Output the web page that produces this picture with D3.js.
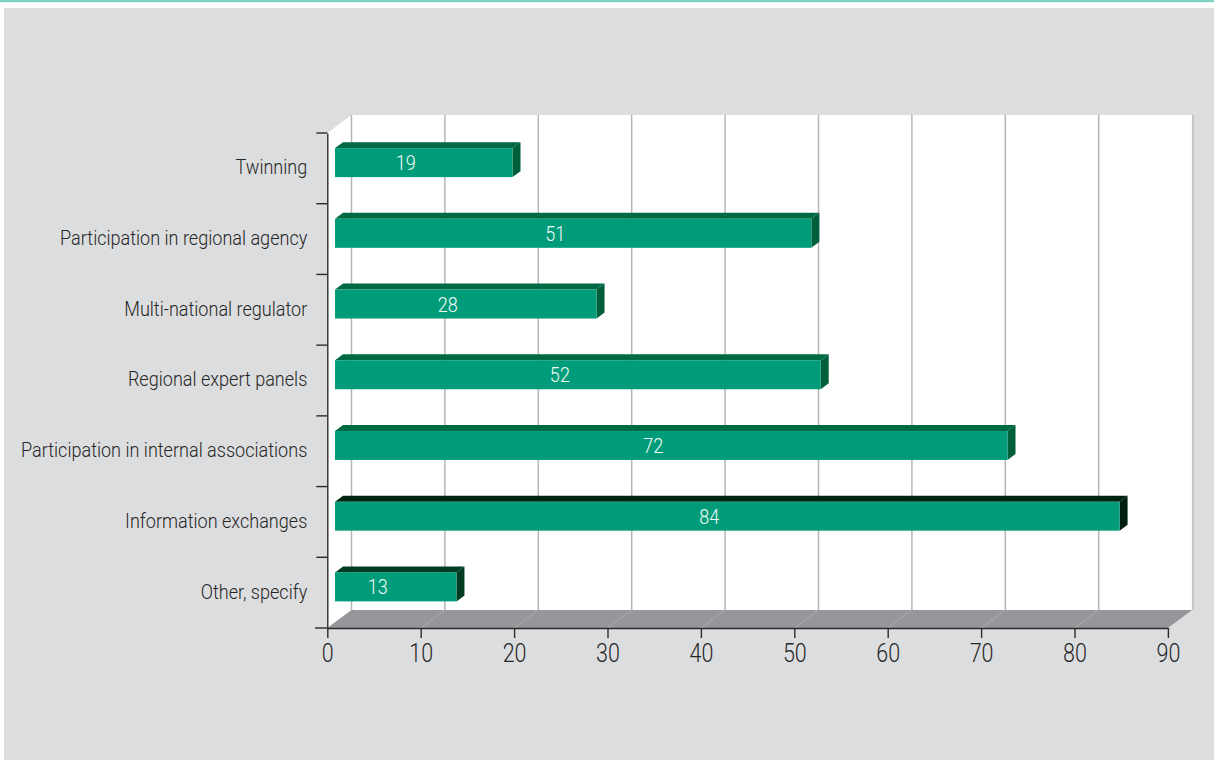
<!DOCTYPE html>
<html>
<head>
<meta charset="utf-8">
<script src="https://cdn.jsdelivr.net/npm/d3@7"></script>
<style>
  html, body { margin: 0; padding: 0; background: #ffffff; }
  svg { display: block; }
  text { font-family: Roboto, "Liberation Sans", Arial, sans-serif; font-weight: 300; }
</style>
</head>
<body>
<svg id="chart" width="1214" height="760"></svg>
<script>
// Survey responses: forms of regional / international cooperation
const categories = [
  "Twinning",
  "Participation in regional agency",
  "Multi-national regulator",
  "Regional expert panels",
  "Participation in internal associations",
  "Information exchanges",
  "Other, specify"
];
const counts = [19, 51, 28, 52, 72, 84, 13];
const xTicks = [0, 10, 20, 30, 40, 50, 60, 70, 80, 90];

// Shading for the top / side faces of each bar
const topShades  = ["#006a43", "#006a43", "#006a43", "#006a43", "#006a43", "#00230f", "#003c21"];
const sideShades = ["#005f3b", "#005f3b", "#005f3b", "#005f3b", "#005f3b", "#001f0e", "#003a1f"];

// condensed look for all labels
const SQ = 0.86;

const svg = d3.select("#chart");
const W = 1214, H = 760;

// page frame
svg.append("rect").attr("x", 0).attr("y", 0).attr("width", W).attr("height", H).attr("fill", "#ffffff");
svg.append("rect").attr("x", 4).attr("y", 8).attr("width", W - 4).attr("height", H - 8).attr("fill", "#dcdddf");
svg.append("rect").attr("x", 0).attr("y", 0).attr("width", W).attr("height", 2.2).attr("fill", "#7fd0bf");

// scales (front plane) and depth offset of the 3-D box
const x = d3.scaleLinear().domain([0, 90]).range([327.3, 1167.9]);
const y = d3.scaleBand().domain(categories).range([133, 628]).padding(0);
const DX = 24.2, DY = 18;
const P = (v, py, z) => [x(v) + z * DX, py - z * DY];
const poly = pts => pts.map(p => p.join(",")).join(" ");

const yTop = 133, yBot = 628;

// left wall
svg.append("polygon")
  .attr("points", poly([P(0, yBot, 0), P(0, yTop, 0), P(0, yTop, 1), P(0, yBot, 1)]))
  .attr("fill", "#ffffff");
// back wall
const bw0 = P(0, yTop, 1), bw1 = P(90, yBot, 1);
svg.append("rect")
  .attr("x", bw0[0]).attr("y", bw0[1])
  .attr("width", bw1[0] - bw0[0]).attr("height", bw1[1] - bw0[1])
  .attr("fill", "#ffffff");
// right edge shading of the back wall
svg.append("line")
  .attr("x1", bw1[0] + 0.8).attr("x2", bw1[0] + 0.8)
  .attr("y1", bw0[1]).attr("y2", bw1[1])
  .attr("stroke", "#c3c4c6").attr("stroke-width", 2);

// back-wall gridlines
svg.append("g").selectAll("line").data(xTicks.slice(0, -1)).join("line")
  .attr("x1", d => P(d, yTop, 1)[0]).attr("x2", d => P(d, yBot, 1)[0])
  .attr("y1", d => P(d, yTop, 1)[1]).attr("y2", d => P(d, yBot, 1)[1])
  .attr("stroke", "#b5b6b8").attr("stroke-width", 1.5);

// floor
svg.append("polygon")
  .attr("points", poly([P(0, yBot, 0), P(90, yBot, 0), P(90, yBot, 1), P(0, yBot, 1)]))
  .attr("fill", "#96979a");
svg.append("g").selectAll("line").data(xTicks.slice(1, -1)).join("line")
  .attr("x1", d => P(d, yBot, 0)[0]).attr("y1", d => P(d, yBot, 0)[1])
  .attr("x2", d => P(d, yBot, 1)[0]).attr("y2", d => P(d, yBot, 1)[1])
  .attr("stroke", "#a9aaac").attr("stroke-width", 1);

// bars: box occupying a slice of the depth
const z0 = 0.32, z1 = 0.65, half = 14.5;
const bars = svg.append("g").selectAll("g").data(categories.map((c, i) => ({ c, v: counts[i], i })))
  .join("g");
bars.each(function (d) {
  const g = d3.select(this);
  const cy = y(d.c) + y.bandwidth() / 2;
  const t = cy - half, b = cy + half;
  // top face
  g.append("polygon")
    .attr("points", poly([P(0, t, z0), P(d.v, t, z0), P(d.v, t, z1), P(0, t, z1)]))
    .attr("fill", topShades[d.i]);
  // side face
  g.append("polygon")
    .attr("points", poly([P(d.v, t, z0), P(d.v, b, z0), P(d.v, b, z1), P(d.v, t, z1)]))
    .attr("fill", sideShades[d.i]);
  // front face
  const f0 = P(0, t, z0), f1 = P(d.v, b, z0);
  g.append("rect")
    .attr("x", f0[0]).attr("y", f0[1])
    .attr("width", f1[0] - f0[0]).attr("height", f1[1] - f0[1])
    .attr("fill", "#009b78");
  // value label
  const lp = P(d.v / 2, cy, z0);
  g.append("text")
    .attr("transform", `translate(${lp[0] - 18},${lp[1]}) scale(${SQ},1)`)
    .attr("dy", "0.36em")
    .attr("text-anchor", "middle")
    .attr("fill", "#f4fbf8")
    .attr("font-size", 21)
    .text(d.v);
});

// left (category) axis
const yAxis = svg.append("g").attr("transform", `translate(${x(0)},0)`)
  .call(d3.axisLeft(y).tickSize(11).tickPadding(8).tickSizeOuter(0));
yAxis.select(".domain").attr("stroke", "#2b2b2b").attr("stroke-width", 1.4);
yAxis.selectAll(".tick line").attr("stroke", "#2b2b2b").attr("stroke-width", 1.4)
  .attr("transform", `translate(0,${-y.bandwidth() / 2})`);
yAxis.selectAll(".tick text")
  .attr("x", null).attr("dy", "0.28em")
  .attr("transform", `translate(-20,0) scale(${SQ},1)`)
  .attr("font-size", 21).attr("fill", "#262626");

// bottom (value) axis
const xAxis = svg.append("g").attr("transform", `translate(0,${yBot})`)
  .call(d3.axisBottom(x).tickValues(xTicks).tickSize(10).tickPadding(5).tickSizeOuter(0));
xAxis.select(".domain").attr("stroke", "#2b2b2b").attr("stroke-width", 1.4);
xAxis.selectAll(".tick line").attr("stroke", "#2b2b2b").attr("stroke-width", 1.4);
xAxis.selectAll(".tick text")
  .attr("y", null).attr("dy", "0.36em")
  .attr("transform", `translate(0,25) scale(0.86,1)`)
  .attr("font-size", 25).attr("fill", "#262626");
// short overhang of the baseline to the left
svg.append("line").attr("x1", 315).attr("x2", x(0)).attr("y1", yBot).attr("y2", yBot)
  .attr("stroke", "#2b2b2b").attr("stroke-width", 1.4);
</script>
</body>
</html>
